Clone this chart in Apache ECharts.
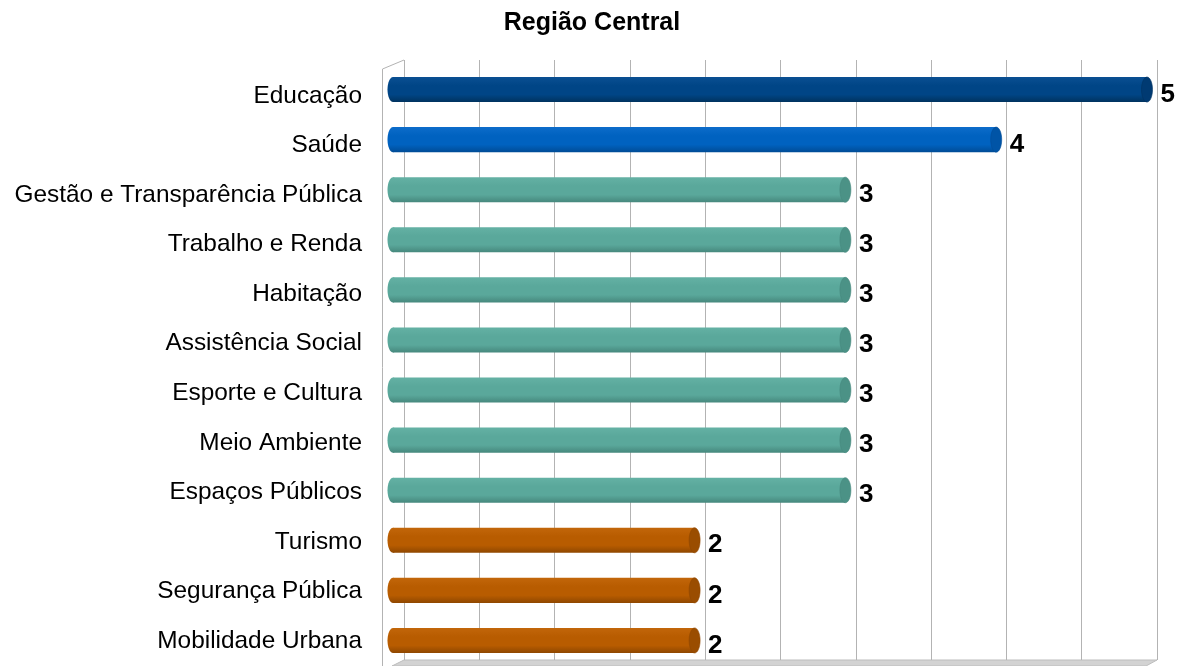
<!DOCTYPE html>
<html>
<head>
<meta charset="utf-8">
<title>Região Central</title>
<script src="https://cdn.jsdelivr.net/npm/echarts@6/dist/echarts.min.js"></script>
<style>
  html, body { margin: 0; padding: 0; background: #fff; }
  #grafico { width: 1184px; height: 666px; }
</style>
</head>
<body>
<div id="grafico"></div>
<script>
// dados do gráfico
var categorias = [
    'Educação', 'Saúde', 'Gestão e Transparência Pública', 'Trabalho e Renda',
    'Habitação', 'Assistência Social', 'Esporte e Cultura', 'Meio Ambiente',
    'Espaços Públicos', 'Turismo', 'Segurança Pública', 'Mobilidade Urbana'
];
var valores = [5, 4, 3, 3, 3, 3, 3, 3, 3, 2, 2, 2];

// cores (uma por barra)
var azulEscuro = { topo: '#0a4f92', base: '#004586', fundo: '#00335f', tampa: '#003a72' };
var azul = { topo: '#0c6cca', base: '#0062c0', fundo: '#004c96', tampa: '#0054a6' };
var verde = { topo: '#64b1a4', base: '#5aa89b', fundo: '#46887d', tampa: '#4b9286' };
var laranja = { topo: '#c2660a', base: '#b85c00', fundo: '#8f4700', tampa: '#9a4d00' };
var coresBarras = [azulEscuro, azul, verde, verde, verde, verde, verde, verde, verde, laranja, laranja, laranja];

var fonte = '"Liberation Sans", Arial, sans-serif';

function gradiente(c) {
    return new echarts.graphic.LinearGradient(0, 0, 0, 1, [
        { offset: 0, color: c.topo },
        { offset: 0.35, color: c.base },
        { offset: 0.7, color: c.base },
        { offset: 1, color: c.fundo }
    ]);
}

// desenha cada barra como um cilindro deitado
function desenhaCilindro(params, api) {
    var idx = api.value(1);
    var ini = api.coord([0, idx]);
    var fim = api.coord([api.value(0), idx]);
    var alt = api.size([0, 1])[1] * 0.5;
    var rx = 5.5;
    var c = coresBarras[params.dataIndex];
    return {
        type: 'group',
        children: [
            {
                type: 'ellipse',
                shape: { cx: ini[0], cy: ini[1], rx: rx, ry: alt / 2 },
                style: { fill: gradiente(c) }
            },
            {
                type: 'rect',
                shape: { x: ini[0], y: ini[1] - alt / 2, width: fim[0] - ini[0], height: alt },
                style: { fill: gradiente(c) }
            },
            {
                type: 'ellipse',
                shape: { cx: fim[0], cy: fim[1], rx: rx, ry: alt / 2 },
                style: { fill: c.tampa, stroke: c.fundo, lineWidth: 0.6 }
            },
            {
                type: 'text',
                style: {
                    text: String(api.value(0)),
                    x: fim[0] + rx + 8,
                    y: fim[1] + 5,
                    verticalAlign: 'middle',
                    align: 'left',
                    font: 'bold 26px ' + fonte,
                    fill: '#000'
                }
            }
        ]
    };
}

var myChart = echarts.init(document.getElementById('grafico'));

var option = {
    backgroundColor: '#fff',
    animation: false,
    title: {
        text: 'Região Central',
        left: 'center',
        top: 11,
        padding: 0,
        textStyle: { fontFamily: fonte, fontSize: 25, fontWeight: 'bold', color: '#000' }
    },
    graphic: [
        {
            type: 'polygon',
            silent: true,
            shape: { points: [[404, 660], [1157, 660], [1146, 666], [392, 666]] },
            style: { fill: '#d3d3d3', stroke: '#bdbdbd', lineWidth: 1 }
        },
        {
            type: 'polyline',
            silent: true,
            shape: { points: [[404, 60], [382.5, 69], [382.5, 666]] },
            style: { fill: null, stroke: '#b3b3b3', lineWidth: 1 }
        }
    ],
    grid: [
        // parede do fundo (linhas de grade)
        { left: 404, right: 27, top: 60, bottom: 6 },
        // barras
        { left: 393, right: 37, top: 64.5, height: 601 },
        // rótulos das categorias (plano da frente, um pouco mais abaixo)
        { left: 393, right: 37, top: 71, height: 601 }
    ],
    xAxis: [
        {
            gridIndex: 0,
            type: 'value',
            min: 0,
            max: 5,
            interval: 0.5,
            axisLine: { show: false },
            axisTick: { show: false },
            axisLabel: { show: false },
            splitLine: { show: true, lineStyle: { color: '#b3b3b3', width: 1 } }
        },
        { gridIndex: 1, type: 'value', min: 0, max: 5, show: false },
        { gridIndex: 2, type: 'value', min: 0, max: 5, show: false }
    ],
    yAxis: [
        { gridIndex: 0, type: 'value', show: false },
        {
            gridIndex: 1,
            type: 'category',
            inverse: true,
            data: categorias,
            show: false
        },
        {
            gridIndex: 2,
            type: 'category',
            inverse: true,
            data: categorias,
            axisLine: { show: false },
            axisTick: { show: false },
            splitLine: { show: false },
            axisLabel: {
                margin: 31,
                fontSize: 24.4,
                fontFamily: fonte,
                color: '#000'
            }
        }
    ],
    series: [
        {
            type: 'custom',
            xAxisIndex: 1,
            yAxisIndex: 1,
            renderItem: desenhaCilindro,
            encode: { x: 0, y: 1 },
            data: valores.map(function (v, i) { return [v, i]; })
        }
    ]
};

if (option && typeof option === 'object') {
    myChart.setOption(option, true);
}
</script>
</body>
</html>
